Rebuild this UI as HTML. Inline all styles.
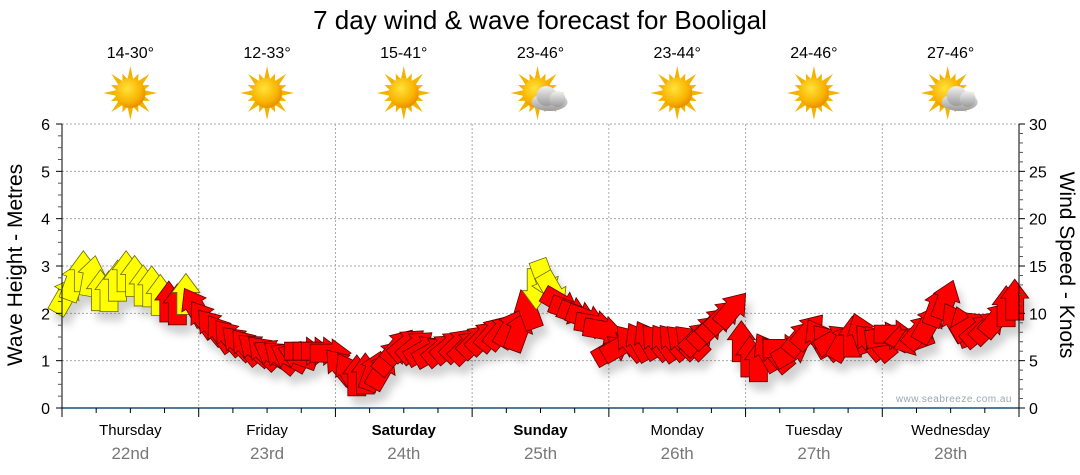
<!DOCTYPE html>
<html><head><meta charset="utf-8"><style>
body{margin:0;background:#fff;}
svg{display:block;font-family:"Liberation Sans",sans-serif;}
</style></head><body>
<svg id="chart" width="1080" height="475" viewBox="0 0 1080 475" xmlns="http://www.w3.org/2000/svg">
<defs>
<filter id="sh" x="-50%" y="-50%" width="200%" height="200%"><feDropShadow dx="5" dy="9" stdDeviation="4" flood-color="#000" flood-opacity="0.18"/></filter>
<radialGradient id="sunG" cx="40%" cy="35%" r="65%"><stop offset="0" stop-color="#ffe23a"/><stop offset="0.7" stop-color="#f9b400"/><stop offset="1" stop-color="#e89000"/></radialGradient>
<linearGradient id="cloudG" x1="0" y1="0" x2="0" y2="1"><stop offset="0" stop-color="#f2f2f2"/><stop offset="1" stop-color="#9a9a9a"/></linearGradient>
</defs>
<text x="540" y="29" font-size="26" text-anchor="middle" fill="#000">7 day wind &amp; wave forecast for Booligal</text>
<g id="grid"></g>
<g id="header"></g>
<g id="arrows" filter="url(#sh)"></g>
<g id="axes"></g>
<text transform="translate(22,265) rotate(-90)" font-size="21" text-anchor="middle">Wave Height - Metres</text>
<text transform="translate(1060,265) rotate(90)" font-size="21" text-anchor="middle">Wind Speed - Knots</text>
<text x="1012" y="402" font-size="10" fill="#9aa7b5" text-anchor="end" letter-spacing="0.5">www.seabreeze.com.au</text>
</svg>
<script>
const days=["Thursday","Friday","Saturday","Sunday","Monday","Tuesday","Wednesday"];
const dates=["22nd","23rd","24th","25th","26th","27th","28th"];
const boldDays=[false,false,true,true,false,false,false];
const temps=["14-30°","12-33°","15-41°","23-46°","23-44°","24-46°","27-46°"];
const cloudy=[false,false,false,true,false,false,true];
const waveTicks=[0,1,2,3,4,5,6];
const windTicks=[0,5,10,15,20,25,30];
const windSpeed=[12.0,13.5,14.5,14.0,12.5,12.4,13.5,14.5,14.0,13.0,12.9,12.0,11.3,11.0,12.1,10.8,
 9.5,8.7,8.0,7.6,7.0,6.6,6.3,6.0,5.8,5.5,5.5,5.6,6.0,6.0,6.0,5.8,
 4.5,3.9,3.5,3.7,4.0,4.1,5.5,6.6,6.8,6.6,6.2,6.0,6.3,6.6,6.8,6.6,
 7.2,7.6,8.0,8.2,8.5,8.2,10.5,12.5,13.5,12.2,11.0,10.3,9.8,9.4,8.8,8.2,
 6.2,6.6,7.0,7.1,7.3,7.1,7.0,7.1,7.1,7.1,7.5,8.2,9.0,9.8,10.5,7.1,
 5.5,5.0,6.0,5.8,6.3,6.0,7.5,8.2,7.5,7.1,7.3,7.1,7.6,8.0,7.1,7.0,
 7.6,7.8,7.3,7.0,8.2,9.0,10.8,11.5,9.2,8.7,8.7,8.3,8.7,9.5,10.8,11.5];
const windDir=[30,20,0,10,0,0,0,0,0,0,0,0,0,0,0,-30,
 -35,-40,-35,-40,-45,-40,-50,-45,-60,-50,-60,-70,90,90,90,90,
 -40,-30,0,0,20,30,40,40,50,50,60,60,50,50,45,45,
 45,45,40,40,30,20,-20,180,160,150,120,110,110,110,100,100,
 60,60,-40,-30,-30,-40,-35,-40,-45,-45,45,45,45,45,40,0,
 0,0,-30,-40,90,60,40,40,-30,-40,60,30,0,-20,-40,-40,
 80,90,-100,-110,40,30,20,20,-30,-20,60,50,45,40,0,0];
const NS="http://www.w3.org/2000/svg";
const X0=62,X1=1019,Y0=408,Y1=124;
const xH=h=>X0+h/168*(X1-X0);
const yKt=k=>Y0-k/30*(Y0-Y1);
const yM=m=>Y0-m/6*(Y0-Y1);
function mk(tag,attrs,parent){const e=document.createElementNS(NS,tag);for(const k in attrs)e.setAttribute(k,attrs[k]);parent.appendChild(e);return e;}
const grid=document.getElementById('grid'),axes=document.getElementById('axes'),hdr=document.getElementById('header'),ar=document.getElementById('arrows');
waveTicks.forEach(m=>{if(m>0){const l=mk('line',{x1:X0,x2:X1,y1:yM(m),y2:yM(m),stroke:'#aaa','stroke-dasharray':'2,2'},grid);

}});
for(let d=1;d<7;d++){const l=mk('line',{x1:xH(d*24),x2:xH(d*24),y1:Y1,y2:Y0,stroke:'#aaa','stroke-dasharray':'2,2'},grid);

}
mk('line',{x1:X0,x2:X1,y1:Y0,y2:Y0,stroke:'#1b4f7a','stroke-width':1.5},axes);
mk('line',{x1:X0,x2:X0,y1:Y1,y2:Y0+5,stroke:'#000'},axes);
mk('line',{x1:X1,x2:X1,y1:Y1,y2:Y0,stroke:'#000'},axes);
for(let m=0;m<=6.001;m+=0.25){const maj=Math.abs(m-Math.round(m))<1e-6;mk('line',{x1:X0-(maj?6:4),x2:X0,y1:yM(m),y2:yM(m),stroke:maj?'#000':'#555'},axes);}
for(let k=0;k<=30;k++){const maj=k%5==0;mk('line',{x1:X1,x2:X1+(maj?6:4),y1:yKt(k),y2:yKt(k),stroke:maj?'#000':'#555'},axes);}
waveTicks.forEach(m=>{const t=mk('text',{x:X0-12,y:yM(m)+6,'font-size':16,'text-anchor':'end'},axes);t.textContent=m;

});
windTicks.forEach(k=>{const t=mk('text',{x:X1+10,y:yKt(k)+6,'font-size':16},axes);t.textContent=k;

});
for(let h=0;h<=168;h+=6){const maj=h%24==0;mk('line',{x1:xH(h),x2:xH(h),y1:Y0,y2:Y0+(maj?9:5),stroke:'#000'},axes);}
days.forEach((d,i)=>{const cx=xH(i*24+12);
const t=mk('text',{x:cx,y:435,'font-size':15,'text-anchor':'middle','font-weight':boldDays[i]?'bold':'normal'},axes);t.textContent=d;


const t2=mk('text',{x:cx,y:459,'font-size':17,'text-anchor':'middle',fill:'#777'},axes);t2.textContent=dates[i];


const t3=mk('text',{x:cx,y:58,'font-size':16,'text-anchor':'middle'},hdr);t3.textContent=temps[i];


const g=mk('g',{transform:`translate(${cx-(cloudy[i]?3:0)},93)`},hdr);


for(let r=0;r<16;r++){const a=r*22.5,len=r%2?21:27;mk('polygon',{points:`-3,-13 0,-${len} 3,-13`,fill:'#f2b400',transform:`rotate(${a})`},g);}
mk('circle',{r:15,fill:'url(#sunG)'},g);
if(cloudy[i]){const c=mk('g',{transform:'translate(12,7)'},g);
mk('ellipse',{cx:0,cy:2,rx:18,ry:9,fill:'url(#cloudG)'},c);mk('circle',{cx:-3,cy:-4,r:10,fill:'url(#cloudG)'},c);mk('circle',{cx:8,cy:-1,r:8,fill:'url(#cloudG)'},c);}
});
const shape="0,-20 14,-1 9,-1 9,21 -9,21 -9,-1 -14,-1";
windSpeed.forEach((k,i)=>{const x=xH(i*1.5+0.75),y=yKt(k);
const p=mk('polygon',{points:shape,fill:k>=12?'#ffff00':'#ff0000',stroke:k>=12?'#6b6b00':'#5a0000','stroke-width':0.8,transform:`translate(${x},${y}) rotate(${windDir[i]})`},ar);

});
</script>
</body></html>
